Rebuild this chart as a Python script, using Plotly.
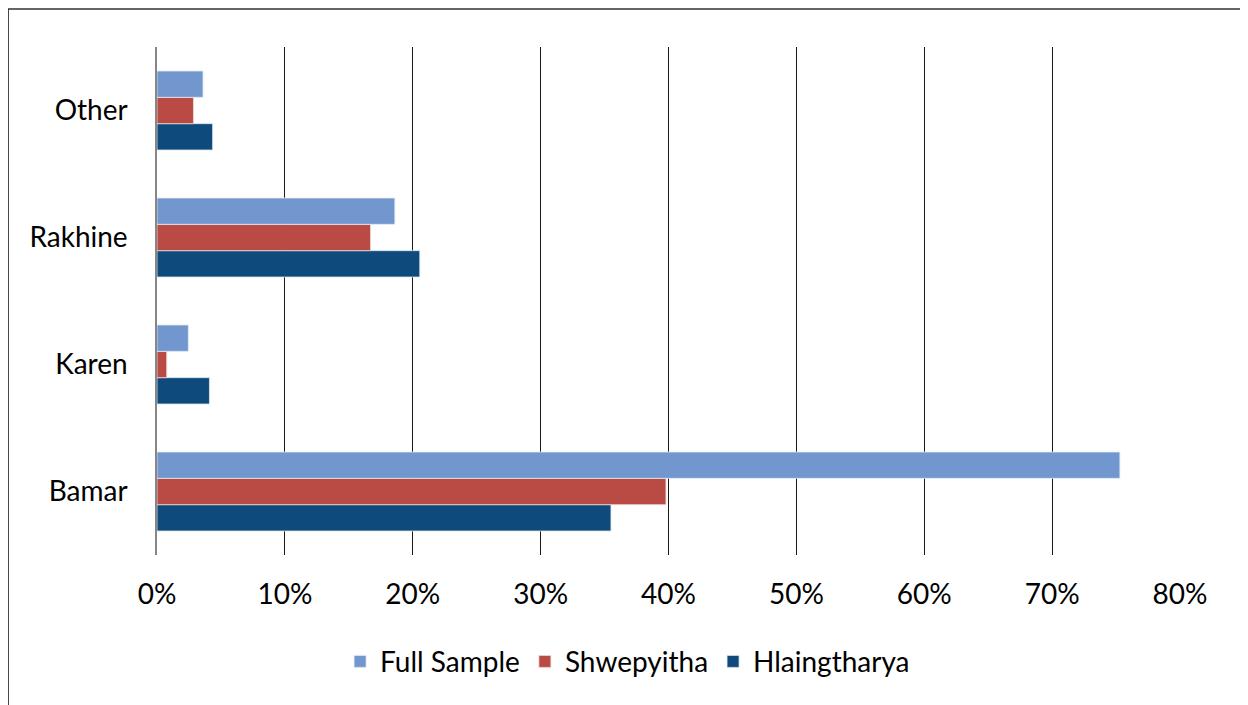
import plotly.graph_objects as go

categories = ["Bamar", "Karen", "Rakhine", "Other"]
full_sample = [75.3, 2.45, 18.6, 3.6]
shwepyitha = [39.8, 0.76, 16.7, 2.85]
hlaingtharya = [35.5, 4.1, 20.55, 4.35]
x_ticks = [0, 10, 20, 30, 40, 50, 60, 70, 80]
x_tick_labels = [f"{t}%" for t in x_ticks]

font_family = "Lato, Open Sans, sans-serif"

fig = go.Figure()
# plotly draws the first trace at the bottom of each group
fig.add_trace(go.Bar(y=categories, x=hlaingtharya, name="Hlaingtharya", orientation="h",
                     marker=dict(color="#0E4A7B", line=dict(color="#DDE6F0", width=0.8))))
fig.add_trace(go.Bar(y=categories, x=shwepyitha, name="Shwepyitha", orientation="h",
                     marker=dict(color="#B94A44", line=dict(color="#F0DCDB", width=0.8))))
fig.add_trace(go.Bar(y=categories, x=full_sample, name="Full Sample", orientation="h",
                     marker=dict(color="#7297CE", line=dict(color="#E3EAF5", width=0.8))))

fig.update_layout(
    width=1240, height=697,
    margin=dict(l=149, r=68, t=39, b=150),
    paper_bgcolor="white", plot_bgcolor="white",
    barmode="group", bargap=0.378, bargroupgap=0,
    font=dict(family=font_family, size=28, color="black"),
    showlegend=True,
    legend=dict(orientation="h", traceorder="reversed", x=0.46, xanchor="center",
                y=-0.21, yanchor="middle", font=dict(size=28), itemwidth=30),
    xaxis=dict(range=[0, 80], tickvals=x_ticks, ticktext=x_tick_labels,
               showgrid=True, gridcolor="#1a1a1a", gridwidth=1, zeroline=False,
               showline=False, ticks="", ticklabelstandoff=20, fixedrange=True),
    yaxis=dict(showline=True, linecolor="#868686", linewidth=1.5, showgrid=False,
               ticks="", ticklabelstandoff=22, fixedrange=True),
    shapes=[dict(type="rect", xref="paper", yref="paper",
                 x0=-0.1455, x1=1.3, y0=-0.6, y1=1.0748,
                 line=dict(color="#333333", width=1.5), layer="below")],
)

fig.write_html("out.html")
